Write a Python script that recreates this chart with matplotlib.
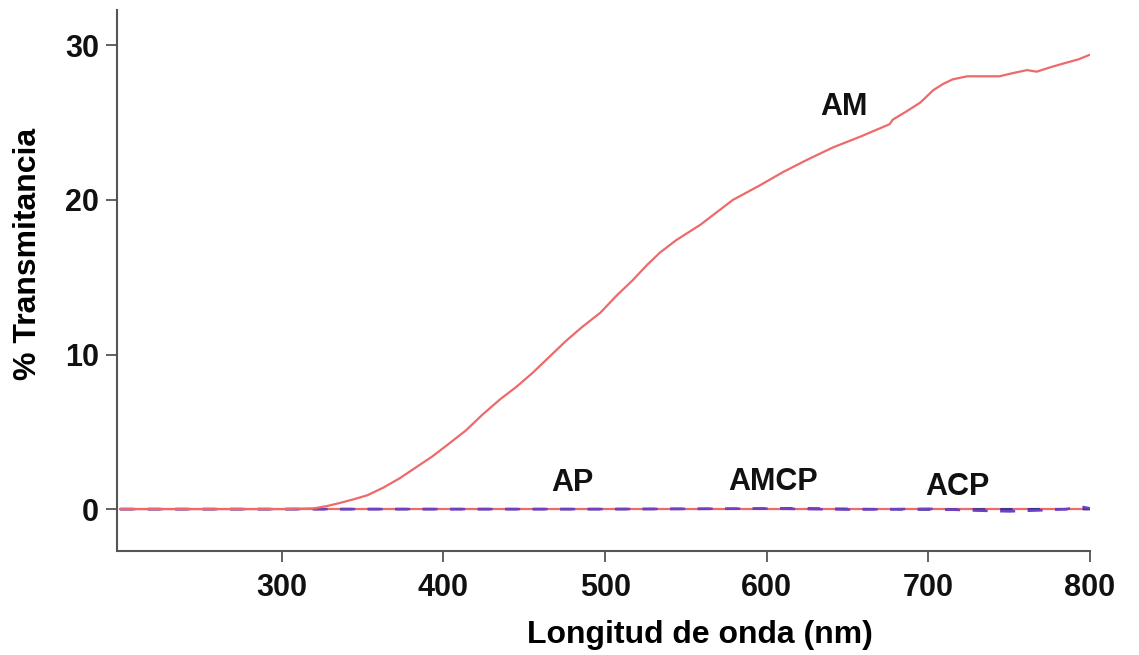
import matplotlib
matplotlib.use("Agg")
import matplotlib.pyplot as plt

# --- data ---
am_wl = [200, 250, 300, 320, 328, 336, 345, 353, 363, 373, 383, 393, 403, 414, 424, 435, 445,
         455, 466, 476, 486, 497, 507, 517, 526, 534, 544, 559, 569, 579, 595, 610, 625, 641,
         658, 676, 678, 686, 695, 703, 709, 715, 724, 734, 744, 752, 761, 767, 776, 786, 793, 800]
am_t = [0.0, 0.0, 0.0, 0.05, 0.2, 0.4, 0.65, 0.9, 1.4, 2.0, 2.7, 3.4, 4.2, 5.1, 6.1, 7.1, 7.9,
        8.8, 9.9, 10.9, 11.8, 12.7, 13.8, 14.8, 15.8, 16.6, 17.4, 18.4, 19.2, 20.0, 20.9, 21.8, 22.6, 23.4,
        24.1, 24.9, 25.2, 25.7, 26.3, 27.1, 27.5, 27.8, 28.0, 28.0, 28.0, 28.2, 28.4, 28.3, 28.6, 28.9, 29.1, 29.4]

ap_wl = [200, 300, 400, 500, 600, 700, 800]
ap_t = [0.0, 0.0, 0.0, 0.0, 0.0, 0.0, 0.0]

amcp_wl = [200, 300, 400, 500, 580, 620, 660, 700, 800]
amcp_t = [0.0, 0.0, 0.0, 0.0, 0.02, 0.05, 0.0, -0.03, 0.0]

acp_wl = [200, 300, 400, 500, 600, 650, 700, 730, 750, 770, 785, 795, 800]
acp_t = [0.0, 0.0, 0.0, 0.0, 0.03, -0.03, 0.02, -0.1, -0.15, -0.08, 0.0, 0.15, 0.05]

labels = ["AM", "AP", "AMCP", "ACP"]
label_x = [648, 480, 604, 718]
label_y = [26.0, 1.68, 1.75, 1.42]

x_ticks = [300, 400, 500, 600, 700, 800]
y_ticks = [0, 10, 20, 30]

plt.rcParams['font.family'] = ['Liberation Sans', 'DejaVu Sans']
plt.rcParams['font.weight'] = 'bold'

fig = plt.figure(figsize=(11.39, 6.55), dpi=100)
ax = fig.add_axes([0.1027, 0.1588, 0.957 - 0.1027, 0.985 - 0.1588])

ax.plot(ap_wl, ap_t, color='#ee6a6a', lw=1.6)
ax.plot(amcp_wl, amcp_t, color='#34349a', lw=1.8, dashes=(5, 6))
ax.plot(acp_wl, acp_t, color='#7040c0', lw=1.8, dashes=(6, 5))
ax.plot(am_wl, am_t, color='#ee6a6a', lw=1.6)

for s, x, y in zip(labels, label_x, label_y):
    ax.text(x, y, s, fontsize=22, fontweight='bold', ha='center', va='center', color='#111111')

ax.set_xlim(198, 800)
ax.set_ylim(-2.71, 32.3)
ax.set_xticks(x_ticks)
ax.set_yticks(y_ticks)

for sp in ['top', 'right']:
    ax.spines[sp].set_visible(False)
for sp in ['left', 'bottom']:
    ax.spines[sp].set_color('#555555')
    ax.spines[sp].set_linewidth(1.5)

ax.tick_params(axis='both', direction='out', length=8, width=1.3, color='#555555',
               labelsize=22, labelcolor='#111111')
ax.tick_params(axis='x', pad=8)
ax.tick_params(axis='y', pad=5)

ax.set_xlabel('Longitud de onda (nm)', fontsize=23, fontweight='bold')
ax.set_ylabel('% Transmitancia', fontsize=23, fontweight='bold')
ax.xaxis.set_label_coords(0.599, -0.128)
ax.yaxis.set_label_coords(-0.076, 0.548)

fig.savefig('out.png', dpi=100)
